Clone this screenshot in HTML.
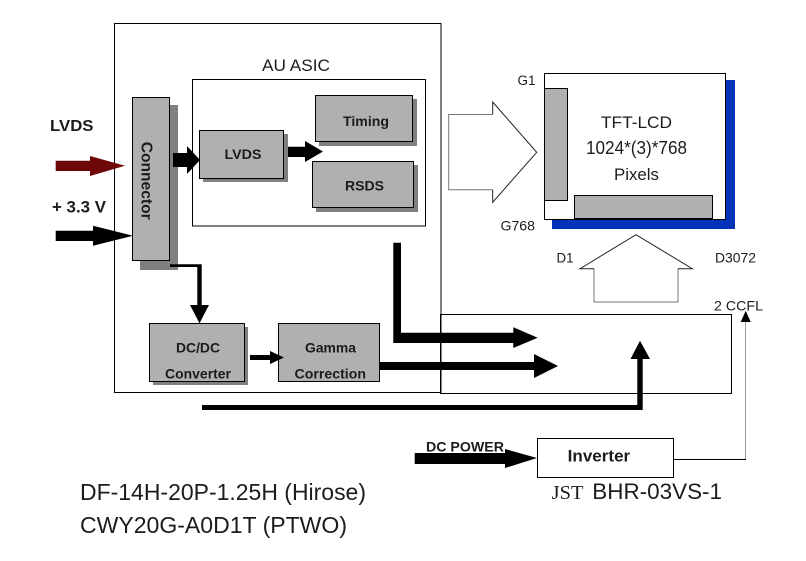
<!DOCTYPE html>
<html><head><meta charset="utf-8"><style>
html,body{margin:0;padding:0;background:#fff;width:806px;height:561px;overflow:hidden}
svg{display:block}
text{font-family:"Liberation Sans",Arial,sans-serif;fill:#1c1c1c}
.b{font-weight:bold}
</style></head><body>
<svg width="806" height="561" viewBox="0 0 806 561" xmlns="http://www.w3.org/2000/svg">
<rect width="806" height="561" fill="#fff"/>
<!-- outer boxes -->
<rect x="114.5" y="23.5" width="326.5" height="369" fill="none" stroke="#000" stroke-width="1"/>
<rect x="192.5" y="79.5" width="233" height="146.5" fill="none" stroke="#000" stroke-width="1"/>
<rect x="440.5" y="314.5" width="291" height="79" fill="none" stroke="#000" stroke-width="1"/>
<!-- shadows -->
<g fill="#808080">
<rect x="140" y="105" width="38" height="165"/>
<rect x="203" y="134" width="85" height="48"/>
<rect x="319" y="99" width="98" height="47"/>
<rect x="316" y="165" width="102" height="47"/>
<rect x="153" y="327" width="95" height="58"/>
</g>
<!-- gray boxes -->
<g fill="#b0b0b0" stroke="#000" stroke-width="1">
<rect x="132.5" y="97.5" width="37" height="163"/>
<rect x="199.5" y="130.5" width="84" height="48"/>
<rect x="315.5" y="95.5" width="97" height="46"/>
<rect x="312.5" y="161.5" width="101" height="46"/>
<rect x="149.5" y="323.5" width="95" height="58"/>
<rect x="278.5" y="323.5" width="101" height="58"/>
</g>
<!-- LCD -->
<rect x="552" y="80" width="183" height="149" fill="#0433b8"/>
<rect x="544.5" y="73.5" width="181" height="146" fill="#fff" stroke="#000" stroke-width="1"/>
<rect x="544.5" y="88.5" width="23" height="112" fill="#b0b0b0" stroke="#000" stroke-width="1"/>
<rect x="574.5" y="195.5" width="138" height="23" fill="#b0b0b0" stroke="#000" stroke-width="1"/>
<!-- hollow arrows -->
<polyline points="492.7,114.5 448.7,114.5 448.7,189.7 492.7,189.7" fill="none" stroke="#777" stroke-width="1"/>
<polyline points="492.7,114.5 492.7,102 536.7,152.3 492.7,202.3 492.7,189.7" fill="none" stroke="#222" stroke-width="1"/>
<polyline points="594,268.7 594,302 678,302 678,268.7" fill="none" stroke="#777" stroke-width="1"/>
<polyline points="594,268.7 580,268.7 636,234.7 692.3,268.7 678,268.7" fill="none" stroke="#222" stroke-width="1"/>
<!-- arrows -->
<polygon points="55.7,160.7 90,160.7 90,156 125,165.7 90,176 90,171 55.7,171" fill="#6e0808"/>
<g fill="#000">
<polygon points="55.7,230.7 93,230.7 93,225.7 133,235.7 93,245.7 93,241 55.7,241"/>
<polygon points="173,153 187,153 187,146 200,160 187,174 187,167 173,167"/>
<polygon points="288,146.7 305,146.7 305,141 323,151.5 305,162 305,157 288,157"/>
<polygon points="170,264.3 201.7,264.3 201.7,305 209,305 199.5,323.3 190,305 197.3,305 197.3,267 170,267"/>
<polygon points="250,355 270,355 270,351 284,357.5 270,364 270,360 250,360"/>
<polygon points="393.3,242.7 401,242.7 401,332.7 513.3,332.7 513.3,327.3 537.7,337.7 513.3,348 513.3,343 393.3,343"/>
<polygon points="380,362 534,362 534,354 558,366 534,378 534,370 380,370"/>
<polygon points="202,405 637.3,405 637.3,359 630.5,359 640,340.7 650,359 642.7,359 642.7,410 202,410"/>
<polygon points="414.7,453 505,453 505,449 537,458 505,468 505,464 414.7,464"/>
<polygon points="740.7,322 745.7,310.7 750.7,322"/>
</g>
<!-- inverter -->
<rect x="537.5" y="438.5" width="136" height="39" fill="#fff" stroke="#000" stroke-width="1"/>
<line x1="674" y1="459.5" x2="746" y2="459.5" stroke="#000" stroke-width="1"/>
<line x1="745.5" y1="322" x2="745.5" y2="459" stroke="#999" stroke-width="1"/>
<!-- labels -->
<text x="262" y="71" font-size="16.5" textLength="68" lengthAdjust="spacingAndGlyphs">AU ASIC</text>
<text class="b" x="50" y="131" font-size="16" textLength="43.5" lengthAdjust="spacingAndGlyphs">LVDS</text>
<text class="b" x="52" y="212.7" font-size="16.5" textLength="54" lengthAdjust="spacingAndGlyphs">+ 3.3 V</text>
<text class="b" font-size="15.5" transform="translate(141.5,141.7) rotate(90)" textLength="78" lengthAdjust="spacingAndGlyphs">Connector</text>
<text class="b" x="224.5" y="159" font-size="14" textLength="37" lengthAdjust="spacingAndGlyphs">LVDS</text>
<text class="b" x="343" y="126" font-size="14" textLength="46" lengthAdjust="spacingAndGlyphs">Timing</text>
<text class="b" x="345" y="190.7" font-size="14" textLength="39" lengthAdjust="spacingAndGlyphs">RSDS</text>
<text class="b" x="176" y="352.7" font-size="14" textLength="44" lengthAdjust="spacingAndGlyphs">DC/DC</text>
<text class="b" x="165" y="378.3" font-size="14" textLength="66" lengthAdjust="spacingAndGlyphs">Converter</text>
<text class="b" x="305" y="352.7" font-size="14" textLength="51" lengthAdjust="spacingAndGlyphs">Gamma</text>
<text class="b" x="294.5" y="378.3" font-size="14" textLength="71.5" lengthAdjust="spacingAndGlyphs">Correction</text>
<text x="601" y="128" font-size="17" textLength="71" lengthAdjust="spacingAndGlyphs">TFT-LCD</text>
<text x="586" y="154" font-size="18.5" textLength="101" lengthAdjust="spacingAndGlyphs">1024*(3)*768</text>
<text x="614" y="180" font-size="17" textLength="45" lengthAdjust="spacingAndGlyphs">Pixels</text>
<text x="517.5" y="85" font-size="13.5" textLength="18" lengthAdjust="spacingAndGlyphs">G1</text>
<text x="500.5" y="230.7" font-size="14" textLength="34.5" lengthAdjust="spacingAndGlyphs">G768</text>
<text x="556.5" y="262.7" font-size="13.5" textLength="17" lengthAdjust="spacingAndGlyphs">D1</text>
<text x="715" y="262.7" font-size="14" textLength="41" lengthAdjust="spacingAndGlyphs">D3072</text>
<text x="714" y="310.7" font-size="14" textLength="49" lengthAdjust="spacingAndGlyphs">2 CCFL</text>
<text class="b" x="426" y="451.5" font-size="14" textLength="78" lengthAdjust="spacingAndGlyphs">DC POWER</text>
<text class="b" x="567.7" y="461.7" font-size="16.5" textLength="62.5" lengthAdjust="spacingAndGlyphs">Inverter</text>
<text x="551.7" y="499" font-size="20" textLength="31.7" lengthAdjust="spacingAndGlyphs" style="font-family:'Liberation Serif',serif">JST</text>
<text x="592.3" y="499" font-size="22" textLength="129.7" lengthAdjust="spacingAndGlyphs">BHR-03VS-1</text>
<text x="80" y="500" font-size="23" textLength="286" lengthAdjust="spacingAndGlyphs">DF-14H-20P-1.25H (Hirose)</text>
<text x="80" y="533" font-size="23" textLength="267" lengthAdjust="spacingAndGlyphs">CWY20G-A0D1T (PTWO)</text>
</svg>
</body></html>
